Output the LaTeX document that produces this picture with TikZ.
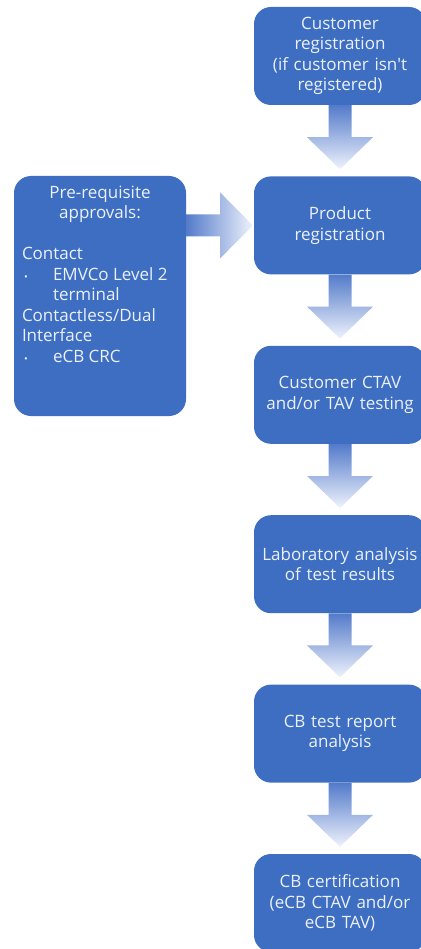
\documentclass[tikz,border=0pt]{standalone}
\usepackage{fontspec}
\setmainfont{Open Sans}[Ligatures=TeXOff]
\usetikzlibrary{positioning,calc}
\definecolor{cbblue}{RGB}{61,110,194}
\definecolor{cbtext}{RGB}{236,241,250}
\definecolor{cbarrow}{RGB}{84,123,202}
\definecolor{cbfade}{RGB}{238,242,252}

% block arrow from the bottom of one stage to the top of the next
\newcommand{\flowdown}[2]{%
  \shade[downarrow] ($(#1.south)+(-11.5,0)$) -- ($(#1.south)+(-11.5,-32)$)
    -- ($(#1.south)+(-33,-32)$) -- ($(#2.north)+(0,7)$)
    -- ($(#1.south)+(33,-32)$) -- ($(#1.south)+(11.5,-32)$)
    -- ($(#1.south)+(11.5,0)$) -- cycle;}
% block arrow from a side box to a stage
\newcommand{\flowright}[2]{%
  \coordinate (from) at (#1.east |- #2.west);
  \shade[sidearrow] ($(from)+(0,11)$) -- ($(from)+(34,11)$)
    -- ($(from)+(34,33)$) -- ($(#2.west)+(-1,0)$)
    -- ($(from)+(34,-33)$) -- ($(from)+(34,-11)$)
    -- ($(from)+(0,-11)$) -- cycle;}

\begin{document}
\begin{tikzpicture}[
    x=1pt, y=1pt,
    node distance=71pt,
    stage/.style={rectangle, fill=cbblue, rounded corners=17pt, minimum width=172pt, minimum height=98pt, text width=162pt, align=center, text=cbtext, font=\fontsize{17}{20.5}\selectfont},
    prereq/.style={rectangle, fill=cbblue, rounded corners=17pt, inner sep=8pt, text=cbtext, font=\fontsize{17}{20.5}\selectfont},
    downarrow/.style={top color=cbarrow, bottom color=cbfade},
    sidearrow/.style={left color=cbarrow, right color=cbfade}
]
\useasboundingbox (0,0) rectangle (420,-949);

% Main flow
\node[stage] (custreg) at (340,-56) {Customer\\registration\\(if customer isn't\\registered)};
\node[stage, below=of custreg] (prodreg) {Product\\registration};
\node[stage, below=of prodreg] (testing) {Customer CTAV\\and/or TAV testing};
\node[stage, below=of testing] (analysis) {Laboratory analysis\\of test results};
\node[stage, below=of analysis] (report) {CB test report\\analysis};
\node[stage, below=of report] (cert) {CB certification\\(eCB CTAV and/or\\eCB TAV)};

% Pre-requisites
\node[prereq] (approvals) at (100,-296) {%
  \begin{minipage}[t][224pt][t]{156pt}
  \vspace*{2pt}
  \centering Pre-requisite\\approvals:\par
  \raggedright\vspace{20.5pt}
  Contact\\
  \makebox[31pt][l]{\hspace{2pt}{\fontsize{10}{10}\selectfont\textbullet}}EMVCo Level 2\\
  \hspace*{31pt}terminal\\
  Contactless/Dual\\
  Interface\\
  \makebox[31pt][l]{\hspace{2pt}{\fontsize{10}{10}\selectfont\textbullet}}eCB CRC
  \end{minipage}};

% Arrows
\flowdown{custreg}{prodreg}
\flowdown{prodreg}{testing}
\flowdown{testing}{analysis}
\flowdown{analysis}{report}
\flowdown{report}{cert}
\flowright{approvals}{prodreg}

\end{tikzpicture}
\end{document}
